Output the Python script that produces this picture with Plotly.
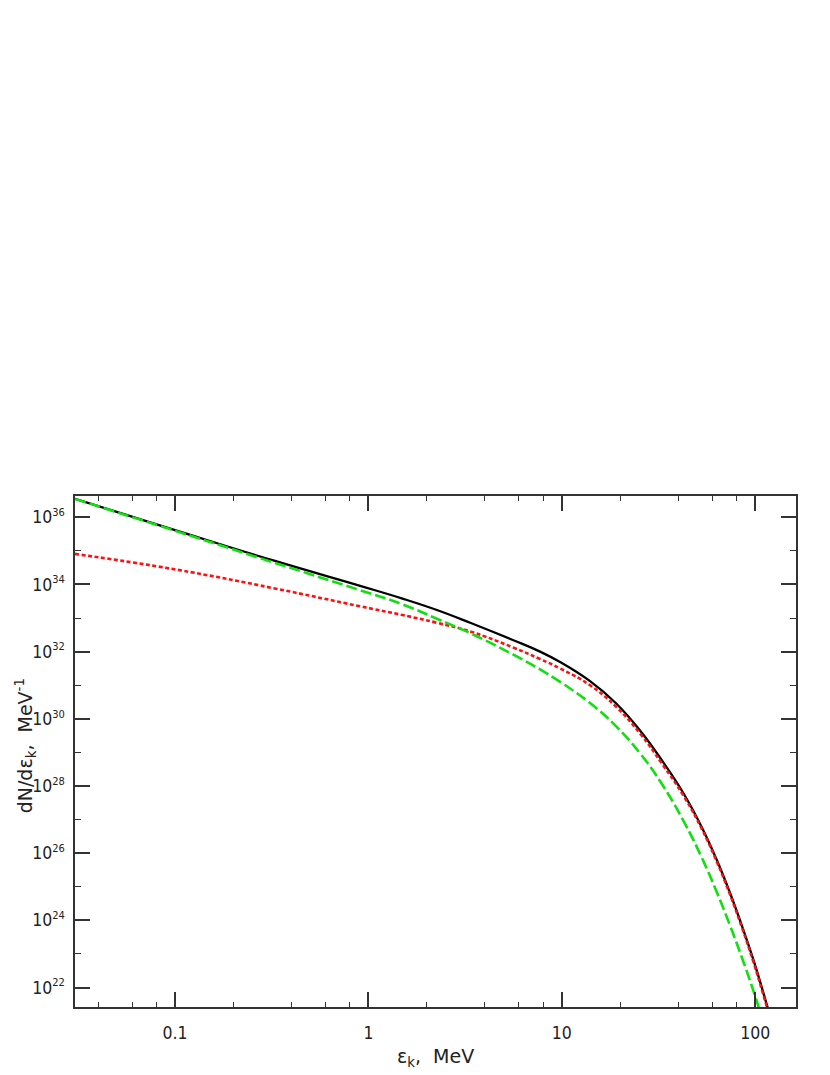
import plotly.graph_objects as go

# Kinetic energy grid (MeV)
energy_mev = [0.0304, 0.1, 0.329, 0.906, 1.5, 2.26, 3.36, 5.62, 7.72, 9.8, 14, 19,
              25.5, 33, 42.7, 53.1, 63.4, 74.3, 85.5, 98.2, 110.5, 120]

# log10(dN/dE)
total_log10 = [36.55, 35.62, 34.70, 33.96, 33.58, 33.24, 32.86, 32.34, 32.00, 31.69, 31.12, 30.47,
               29.64, 28.755, 27.77, 26.76, 25.79, 24.80, 23.83, 22.80, 21.82, 21.11]
red_log10 = [34.91, 34.45, 33.88, 33.35, 33.09, 32.86, 32.60, 32.12, 31.78, 31.50, 31.00, 30.37,
             29.55, 28.66, 27.70, 26.71, 25.74, 24.75, 23.78, 22.74, 21.76, 21.05]
green_log10 = [36.545, 35.60, 34.64, 33.83, 33.41, 32.98, 32.55, 31.91, 31.47, 31.10, 30.47, 29.79,
               28.96, 28.05, 26.95, 25.85, 24.83, 23.83, 22.88, 21.88, 20.94, 20.24]

y_major_exp = [22, 24, 26, 28, 30, 32, 34, 36]
y_minor_exp = [21, 23, 25, 27, 29, 31, 33, 35, 37]
x_major = [0.1, 1, 10, 100]
x_major_text = ["0.1", "1", "10", "100"]
x_minor = [0.04, 0.06, 0.08, 0.2, 0.4, 0.6, 0.8, 2, 4, 6, 8, 20, 40, 60, 80]

TICK_FONT = "DejaVu Sans Condensed, Liberation Sans, Arial, sans-serif"
TITLE_FONT = "DejaVu Sans, Verdana, sans-serif"

def to_lin(vals):
    return [10.0 ** v for v in vals]

fig = go.Figure()
fig.add_trace(go.Scatter(x=energy_mev, y=to_lin(total_log10), mode="lines",
                         line=dict(color="#000000", width=2.3, shape="spline", smoothing=1.25),
                         showlegend=False))
fig.add_trace(go.Scatter(x=energy_mev, y=to_lin(red_log10), mode="lines",
                         line=dict(color="#ff1010", width=2.6, dash="4px,2.5px", shape="spline", smoothing=1.25),
                         showlegend=False))
fig.add_trace(go.Scatter(x=energy_mev, y=to_lin(green_log10), mode="lines",
                         line=dict(color="#10e010", width=2.6, dash="11px,4px", shape="spline", smoothing=1.25),
                         showlegend=False))

axis_common = dict(
    showline=True, linecolor="#333333", linewidth=1.5, mirror="ticks",
    ticks="inside", ticklen=15, tickwidth=1.5, tickcolor="#333333",
    showgrid=False, zeroline=False,
    tickfont=dict(family=TICK_FONT, size=17.5, color="#222222"),
)

fig.update_xaxes(
    type="log", range=[-1.517, 2.211],
    tickmode="array", tickvals=x_major, ticktext=x_major_text,
    ticklabelstandoff=9,
    minor=dict(tickmode="array", tickvals=x_minor, ticks="inside", ticklen=5,
               tickwidth=1.3, tickcolor="#333333", showgrid=False),
    **axis_common,
)
fig.update_yaxes(
    type="log", range=[21.42, 36.634],
    tickmode="array", tickvals=[10.0 ** e for e in y_major_exp],
    ticktext=[f"10<sup><span style='font-size:11px'>{e}</span></sup>" for e in y_major_exp],
    ticklabelstandoff=5,
    minor=dict(tickmode="array", tickvals=[10.0 ** e for e in y_minor_exp], ticks="inside", ticklen=6,
               tickwidth=1.3, tickcolor="#333333", showgrid=False),
    **axis_common,
)

fig.add_annotation(text="ε<sub>k</sub>,&nbsp; MeV", xref="paper", yref="paper",
                   x=0.5, y=-0.0985, xanchor="center", yanchor="middle", showarrow=False,
                   font=dict(family=TITLE_FONT, size=19, color="#222222"))
fig.add_annotation(text="dN/dε<sub>k</sub>,&nbsp; MeV<sup>-1</sup>", xref="paper", yref="paper",
                   x=-0.0694, y=0.512, xanchor="center", yanchor="middle", showarrow=False,
                   textangle=-90,
                   font=dict(family=TITLE_FONT, size=19, color="#222222"))

fig.update_layout(
    width=822, height=1067,
    margin=dict(l=67, r=34, t=488, b=68),
    plot_bgcolor="white", paper_bgcolor="white",
)

fig.write_html("out.html")
